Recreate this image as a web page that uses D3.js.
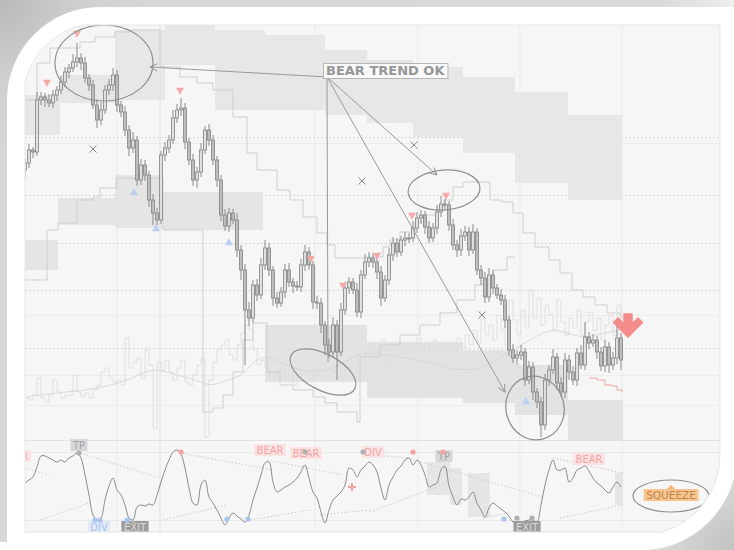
<!DOCTYPE html>
<html>
<head>
<meta charset="utf-8">
<script src="https://cdn.jsdelivr.net/npm/d3@7"></script>
<style>
  body { margin: 0; background: #fff; }
  svg { display: block; }
</style>
</head>
<body>
<svg id="chart" width="734" height="550"></svg>
<script>
// ---- data (price units are arbitrary) ----
const firstOpen = 270
const closes = [
  277, 290, 288, 340, 343, 340, 337, 345, 350, 358,
  368, 372, 378, 382, 377, 362, 355, 335, 320, 330,
  350, 355, 365, 335, 328, 310, 292, 300, 260, 275,
  265, 240, 227, 220, 285, 292, 300, 322, 330, 332,
  298, 280, 260, 268, 290, 310, 300, 280, 260, 225,
  214, 227, 220, 190, 170, 130, 122, 155, 145, 175,
  192, 170, 142, 137, 148, 170, 158, 154, 153, 175,
  188, 175, 138, 137, 115, 95, 88, 115, 88, 130,
  152, 158, 150, 128, 165, 178, 182, 178, 168, 142,
  160, 185, 197, 188, 200, 202, 202, 212, 222, 225,
  213, 202, 212, 228, 236, 235, 215, 195, 190, 204,
  208, 190, 208, 170, 162, 143, 165, 152, 145, 140,
  120, 90, 82, 85, 88, 60, 73, 48, 38, 15,
  60, 70, 83, 57, 48, 80, 68, 60, 87, 75,
  103, 97, 100, 88, 74, 93, 75, 82, 102, 80
]
const wickUp = [
  4, 6, 3, 8, 5, 4, 6, 5, 4, 6,   5, 4, 8, 15, 5, 6, 4, 5, 6, 8,
  5, 6, 7, 5, 4, 6, 5, 8, 4, 6,   5, 4, 6, 5, 4, 6, 5, 8, 6, 10,
  5, 4, 6, 5, 7, 4, 6, 5, 4, 5,   6, 5, 4, 7, 5, 6, 8, 5, 6, 7,
  8, 5, 4, 6, 5, 6, 7, 4, 5, 6,   7, 5, 4, 6, 5, 4, 6, 8, 5, 7,
  6, 5, 4, 7, 5, 8, 6, 5, 4, 6,   5, 7, 6, 5, 4, 6, 5, 7, 6, 5,
  4, 6, 5, 7, 8, 5, 4, 6, 5, 7,   6, 5, 8, 4, 5, 6, 7, 5, 4, 6,
  5, 4, 6, 5, 7, 4, 6, 5, 4, 5,   6, 5, 8, 4, 6, 7, 5, 6, 5, 8,
  15, 5, 6, 4, 5, 7, 5, 6, 12, 5
]
const wickDn = [
  8, 5, 6, 4, 5, 7, 4, 5, 6, 4,   5, 6, 4, 5, 7, 5, 6, 4, 8, 5,
  4, 5, 6, 7, 5, 6, 8, 5, 6, 5,   6, 7, 12, 5, 4, 6, 5, 4, 5, 6,
  7, 5, 6, 8, 5, 4, 6, 5, 7, 6,   5, 6, 4, 7, 10, 55, 8, 5, 6, 4,
  5, 6, 8, 5, 4, 6, 5, 7, 4, 5,   6, 5, 7, 6, 8, 10, 6, 5, 28, 4,
  5, 6, 4, 5, 6, 4, 5, 6, 7, 8,   4, 5, 6, 5, 4, 6, 5, 4, 5, 6,
  7, 5, 4, 6, 5, 4, 6, 5, 7, 6,   5, 6, 4, 5, 7, 6, 5, 6, 4, 5,
  8, 6, 5, 7, 5, 6, 4, 8, 6, 12,  5, 6, 4, 7, 5, 6, 8, 5, 6, 4,
  5, 6, 4, 7, 5, 6, 8, 5, 6, 10
]
// faint step series drawn under the candles, and its average (knots)
const flow = [
  42, 40, 45, 62, 42, 38, 45, 60, 48, 42,   45, 45, 65, 48, 44, 47, 42, 50, 55, 68,
  72, 62, 58, 60, 55, 102, 72, 78, 82, 62,  90, 75, 12, 78, 70, 80, 68, 60, 72, 80,
  58, 55, 65, 75, 82, 3, 60, 78, 90, 95,    100, 85, 80, 95, 107, 115, 110, 90, 75, 80,
  72, 65, 60, 68, 72, 62, 70, 55, 65, 75,   68, 60, 72, 65, 78, 70, 80, 68, 75, 62,
  72, 80, 68, 85, 75, 90, 95, 80, 88, 100,  75, 90, 78, 98, 85, 92, 80, 95, 102, 88,
  98, 85, 100, 90, 95, 82, 95, 88, 102, 92, 105, 95, 110, 98, 122, 105, 115, 100, 125, 110,
  95, 140, 120, 105, 130, 112, 150, 122, 142, 115, 135, 125, 110, 140, 118, 105, 122, 112, 130, 105,
  118, 128, 110, 122, 100, 115, 125, 105, 135, 115
]
const flowAvg = [
  [0.5, 43], [7, 47], [17, 50], [26.25, 60], [30.5, 70], [33.75, 70], [38, 65], [43, 60],
  [46.25, 53], [50.5, 60], [53.75, 63], [57, 77], [59.5, 85], [63, 80], [68, 70], [72, 68],
  [76.25, 70], [79.5, 77], [83, 85], [85.5, 88], [92, 84], [98.75, 80], [104, 74], [110.5, 68],
  [115.5, 75], [120, 86], [125.5, 98], [131.25, 112], [135.5, 107], [139.5, 102], [144, 106], [148.75, 110]
]
// stepped channel lines [candle index, level]
const upperBand = [
  [0, 340], [3, 377], [6.25, 392], [13.75, 398], [17.5, 403], [22.5, 408], [26.25, 410], [33.75, 373],
  [38.75, 363], [43, 357], [47, 350], [52, 323], [55.5, 287], [58, 270], [63, 250], [66.25, 240],
  [69.5, 223], [73, 207], [75.5, 195], [77.5, 182], [85, 183], [89.5, 193], [91.25, 200], [93.75, 208],
  [97.5, 218], [100, 225], [103, 233], [104.75, 240], [107, 253], [109.5, 258], [116.25, 240], [119.25, 238],
  [122, 227], [124.5, 207], [127.5, 193], [131, 180], [133.75, 167], [136.75, 150], [139.5, 143],
  [142.5, 135], [145.5, 127], [148.75, 123], [149.5, 123]
]
const lowerBand = [
  [0, 160], [5.5, 210], [8.25, 217], [13, 240], [17, 243], [18.75, 252], [23, 262], [34.5, 210],
  [44.5, 28], [47, 32], [49.5, 45], [52, 68], [54.5, 100], [57, 117], [60.5, 68], [63.75, 55],
  [67, 50], [72, 43], [75, 37], [78, 28], [83, 18], [83.75, 83], [88.75, 95], [93.75, 105],
  [98.75, 115], [103.75, 127], [108, 140], [112.5, 155], [117, 170], [120.5, 183], [122.5, 183]
]
const stopLine = [[141, 62], [143, 60], [145, 55], [146.75, 54], [148, 50], [149.25, 48]]
// shaded zones [from index, to index, top level, bottom level]
const zonesTop = [
  [0, 8.75, 345, 305], [8.75, 22.5, 365, 337], [22.5, 35, 410, 340], [35, 47.5, 415, 375],
  [47.5, 60, 410, 330], [60, 75, 405, 330], [75, 85.5, 390, 325], [85.5, 97, 380, 317],
  [97, 109.5, 373, 303], [109.5, 122.5, 363, 287], [122.5, 135.75, 348, 257], [135.75, 149.25, 325, 240]
]
const zonesMid = [
  [0, 8.25, 200, 170], [8.25, 22.5, 242, 215], [22.5, 34.5, 265, 212], [34.5, 59.5, 248, 210]
]
const zonesLow = [
  [60, 85.5, 115, 58], [85.5, 109.5, 98, 42], [109.5, 122.5, 90, 37], [122.5, 135.75, 75, 25],
  [135.75, 149.5, 40, 0]
]
const sellMarks = [[13, 407], [5.5, 358], [38.75, 350], [71.5, 182], [79.5, 155], [88, 185], [96.75, 225], [105.25, 245]]
const buyMarks = [[27.25, 247], [32.75, 211], [51, 197], [125.25, 38]]
const crossMarks = [[17, 291], [84.25, 259], [97.25, 295], [114.25, 125]]
const signalArrow = [150.75, 126]
const gridLevels = [303, 245, 197, 150, 92]
const faintLevels = [297, 125, 65, 35]
const gridCols = [23, 33.75, 72.5, 98.25, 123.75, 149.25]

// oscillator
const osc = [
  47, 50, 53, 63, 74, 74, 72, 70, 68, 70,   68, 72, 74, 77, 72, 55, 35, 15, 10, 12,
  30, 44, 52, 40, 35, 25, 12, 10, 23, 25,   24, 26, 25, 35, 48, 60, 70, 78, 80, 76,
  62, 42, 27, 25, 45, 50, 33, 27, 20, 12,   5, 12, 17, 14, 11, 8, 15, 30, 42, 55,
  67, 68, 48, 38, 40, 43, 45, 48, 52, 58,   65, 52, 38, 32, 18, 7, 20, 30, 34, 38,
  45, 62, 60, 53, 60, 64, 68, 65, 58, 42,   30, 45, 53, 60, 64, 70, 72, 65, 70, 65,
  55, 43, 45, 47, 60, 64, 44, 33, 25, 31,   30, 33, 38, 27, 20, 13, 22, 27, 24, 21,
  18, 14, 8, 7, 8, 9, 10, 10, 8, 25,        45, 60, 70, 60, 60, 62, 48, 52, 60, 62,
  64, 59, 52, 47, 44, 40, 37, 43, 48, 43
]
const oscUpperTrends = [
  [[0, 62], [6, 55]], [[13.75, 77], [33.75, 52]], [[38.75, 77], [62, 60]], [[60.5, 70], [79.5, 55]],
  [[84.5, 76], [95.5, 72]], [[95.5, 72], [129.5, 33]], [[132, 72], [149.5, 57]]
]
const oscLowerTrends = [
  [[3.75, 10], [16.75, 28]], [[34.5, 10], [50.5, 25]], [[56.25, 10], [71.25, 20]], [[73.75, 15], [86.25, 20]],
  [[86.25, 18], [105.5, 47]], [[114.5, 12], [120.75, 17]], [[133.75, 12], [149.5, 25]]
]
const oscZones = [[100.5, 106.25, 68, 35], [106.25, 109.25, 62, 25], [110.75, 116.25, 57, 13], [147.5, 149.5, 57, 25]]
const oscLevels = [78, 10]
const oscDots = [
  { i: 17.5, v: 10, kind: "bull" }, { i: 18.75, v: 10, kind: "bull" }, { i: 25.5, v: 10, kind: "bull" },
  { i: 50.5, v: 11, kind: "bull" }, { i: 55.75, v: 11, kind: "bull" }, { i: 119.75, v: 11, kind: "bull" },
  { i: 13.5, v: 77, kind: "gray" }, { i: 70, v: 78, kind: "gray" }, { i: 84.5, v: 78, kind: "gray" },
  { i: 123, v: 12, kind: "gray" }, { i: 126.75, v: 12, kind: "gray" }, { i: 27, v: 7, kind: "gray" },
  { i: 39, v: 78, kind: "bear" }, { i: 97, v: 78, kind: "bear" }, { i: 104.5, v: 78, kind: "bear" }
]
const oscTags = [
  { text: "TP", i: 13.5, v: 85, kind: "tp" },
  { text: "DIV", i: 18.5, v: 3, kind: "bull" },
  { text: "EXIT", i: 27.5, v: 3, kind: "exit" },
  { text: "BEAR", i: -2.5, v: 74, kind: "bear" },
  { text: "BEAR", i: 61.25, v: 80, kind: "bear" },
  { text: "BEAR", i: 70.25, v: 77, kind: "bear" },
  { text: "DIV", i: 87, v: 78, kind: "bear" },
  { text: "TP", i: 104.75, v: 74, kind: "tp" },
  { text: "EXIT", i: 125.5, v: 3, kind: "exit" },
  { text: "BEAR", i: 141, v: 71, kind: "bear" },
  { text: "SQUEEZE", i: 161.5, v: 35, kind: "squeeze" }
]
const oscPlus = [81.75, 43]

// hand drawn notes
const noteLabel = { text: "BEAR TREND OK", i: 75.5, v: 363 }
const noteRings = [
  { i: 19.75, v: 377, rx: 49, ry: 38, rot: 0 },
  { i: 104.75, v: 250, rx: 36, ry: 20, rot: -4 },
  { i: 74.5, v: 68, rx: 36, ry: 18, rot: 28 },
  { i: 127.5, v: 32, rx: 29, ry: 32, rot: -15 }
]
const noteArrows = [[31.25, 373], [103, 265], [120, 48]]
const noteDrop = [75.75, 78]
const squeezeRing = { i: 161.5, v: 34, rx: 38, ry: 16 }

// ---- layout ----
const W = 734, H = 550
const plotLeft = 25, plotRight = 720, plotTop = 25, mainBottom = 440, oscBottom = 532

const svg = d3.select("#chart")
const defs = svg.append("defs")

const x = d3.scaleLinear().domain([0, 149]).range([25, 621])
const y = d3.scaleLinear().domain([0, 415]).range([mainBottom, plotTop])
const yo = d3.scaleLinear().domain([0, 90]).range([530, mainBottom])

// frame
const tl = defs.append("radialGradient").attr("id", "tlGrad")
  .attr("gradientUnits", "userSpaceOnUse").attr("cx", 0).attr("cy", 0).attr("r", 140)
tl.append("stop").attr("offset", 0).attr("stop-color", "#b9b9b9")
tl.append("stop").attr("offset", 0.55).attr("stop-color", "#cfcfcf")
tl.append("stop").attr("offset", 1).attr("stop-color", "#d6d6d6")
const br = defs.append("radialGradient").attr("id", "brGrad")
  .attr("gradientUnits", "userSpaceOnUse").attr("cx", W).attr("cy", H).attr("r", 110)
br.append("stop").attr("offset", 0).attr("stop-color", "#c2c2c2")
br.append("stop").attr("offset", 1).attr("stop-color", "#e6e6e6")
const tr = defs.append("linearGradient").attr("id", "trGrad")
tr.append("stop").attr("offset", 0).attr("stop-color", "#d6d6d6")
tr.append("stop").attr("offset", 0.9).attr("stop-color", "#dadada")
tr.append("stop").attr("offset", 1).attr("stop-color", "#eeeeee")

svg.append("rect").attr("width", W).attr("height", H).attr("fill", "url(#trGrad)")
svg.append("rect").attr("width", 160).attr("height", 160).attr("fill", "url(#tlGrad)")
svg.append("rect").attr("x", W - 120).attr("y", H - 120).attr("width", 120).attr("height", 120).attr("fill", "url(#brGrad)")
svg.append("path")
  .attr("d", "M7,550 L7,100 A93,93 0 0 1 100,7 L734,7 L734,478 A96,96 0 0 1 645,550 Z")
  .attr("fill", "#fff")
svg.append("rect").attr("x", 0).attr("y", 542).attr("width", 8).attr("height", 8).attr("fill", "#fff")

// plot area
const plotPath = "M25,532 L25,82.5 A77,77 0 0 1 82.5,25 L720,25 L720,455 A80,80 0 0 1 661.7,532 Z"
defs.append("clipPath").attr("id", "plotClip").append("path").attr("d", plotPath)
const g = svg.append("g").attr("clip-path", "url(#plotClip)")
g.append("path").attr("d", plotPath).attr("fill", "#f6f6f6")

// grid
g.selectAll(".vgrid").data(gridCols).join("line")
  .attr("x1", d => x(d)).attr("x2", d => x(d))
  .attr("y1", plotTop).attr("y2", oscBottom)
  .attr("stroke", (d, i) => i === 1 ? "#dedede" : "#ebebeb").attr("stroke-width", 1)
g.selectAll(".hfaint").data(faintLevels).join("line")
  .attr("x1", plotLeft).attr("x2", plotRight)
  .attr("y1", d => y(d) + 0.5).attr("y2", d => y(d) + 0.5)
  .attr("stroke", "#ececec")
g.selectAll(".hgrid").data(gridLevels).join("line")
  .attr("x1", plotLeft).attr("x2", plotRight)
  .attr("y1", d => y(d) + 0.5).attr("y2", d => y(d) + 0.5)
  .attr("stroke", "#d6d6d6").attr("stroke-dasharray", "2,2")
g.append("line").attr("x1", plotLeft).attr("x2", plotRight)
  .attr("y1", mainBottom + 0.5).attr("y2", mainBottom + 0.5).attr("stroke", "#e2e2e2")
g.selectAll(".olevel").data(oscLevels).join("line")
  .attr("x1", plotLeft).attr("x2", plotRight)
  .attr("y1", d => yo(d) + 0.5).attr("y2", d => yo(d) + 0.5)
  .attr("stroke", "#e9e9e9")

// zones
function drawZones(data, fill, op) {
  g.append("g").selectAll("rect").data(data).join("rect")
    .attr("x", d => x(d[0])).attr("width", d => x(d[1]) - x(d[0]))
    .attr("y", d => y(d[2])).attr("height", d => y(d[3]) - y(d[2]))
    .attr("fill", fill).attr("opacity", op)
}
drawZones(zonesTop, "#e4e4e4", 0.85)
drawZones(zonesMid, "#e2e2e2", 0.85)
drawZones(zonesLow, "#dedede", 0.8)

// faint flow series + average
g.append("path")
  .datum(flow)
  .attr("d", d3.line().x((d, i) => x(i)).y(d => y(d)).curve(d3.curveStepAfter))
  .attr("fill", "none").attr("stroke", "#dddddd").attr("stroke-width", 0.9)
g.append("path")
  .datum(flowAvg)
  .attr("d", d3.line().x(d => x(d[0])).y(d => y(d[1])).curve(d3.curveBasis))
  .attr("fill", "none").attr("stroke", "#d6d6d6").attr("stroke-width", 0.9)

// channel steps
const stepLine = d3.line().x(d => x(d[0])).y(d => y(d[1])).curve(d3.curveStepAfter)
g.append("path").datum(upperBand).attr("d", stepLine)
  .attr("fill", "none").attr("stroke", "#cfcfcf").attr("stroke-width", 1)
g.append("path").datum(lowerBand).attr("d", stepLine)
  .attr("fill", "none").attr("stroke", "#cfcfcf").attr("stroke-width", 1)
g.append("path").datum(stopLine).attr("d", stepLine)
  .attr("fill", "none").attr("stroke", "#f3a4a4").attr("stroke-width", 1)

// candles
const candles = closes.map((c, i) => {
  const o = i === 0 ? firstOpen : closes[i - 1]
  return { i, o, c, h: Math.max(o, c) + wickUp[i], l: Math.min(o, c) - wickDn[i] }
})
const cg = g.append("g")
cg.selectAll("line").data(candles).join("line")
  .attr("x1", d => x(d.i)).attr("x2", d => x(d.i))
  .attr("y1", d => y(d.h)).attr("y2", d => y(d.l))
  .attr("stroke", "#8a8a8a").attr("stroke-width", 1)
cg.selectAll("rect").data(candles).join("rect")
  .attr("x", d => x(d.i) - 1.5).attr("width", 3)
  .attr("y", d => y(Math.max(d.o, d.c)))
  .attr("height", d => Math.max(1, Math.abs(y(d.o) - y(d.c))))
  .attr("fill", d => d.c >= d.o ? "#e0e0e0" : "#bdbdbd")
  .attr("stroke", "#838383").attr("stroke-width", 0.8)

// signal marks
const tri = d3.symbol(d3.symbolTriangle).size(28)
g.selectAll(".sell").data(sellMarks).join("path")
  .attr("d", tri)
  .attr("transform", d => `translate(${x(d[0])},${y(d[1])}) rotate(180)`)
  .attr("fill", "#f6a9a9")
g.selectAll(".buy").data(buyMarks).join("path")
  .attr("d", tri)
  .attr("transform", d => `translate(${x(d[0])},${y(d[1])})`)
  .attr("fill", "#b8cff1")
g.selectAll(".cross").data(crossMarks).join("path")
  .attr("d", "M-3.5,-3.5 L3.5,3.5 M-3.5,3.5 L3.5,-3.5")
  .attr("transform", d => `translate(${x(d[0])},${y(d[1])})`)
  .attr("stroke", "#8a8a8a").attr("stroke-width", 1).attr("fill", "none")

// big signal arrow
g.append("path")
  .attr("d", "M-4,0 L4,0 L4,10 L10,4 L14.5,8.5 L0,23 L-14.5,8.5 L-10,4 L-4,10 Z")
  .attr("transform", `translate(${x(signalArrow[0])},${y(signalArrow[1])})`)
  .attr("fill", "#f48c8c").attr("stroke", "#f48c8c").attr("stroke-linejoin", "round").attr("stroke-width", 1.5)

// oscillator
const og = g.append("g")
og.selectAll(".ozone").data(oscZones).join("rect")
  .attr("x", d => x(d[0])).attr("width", d => x(d[1]) - x(d[0]))
  .attr("y", d => yo(d[2])).attr("height", d => yo(d[3]) - yo(d[2]))
  .attr("fill", "#e6e6e6")
const trendLine = d3.line().x(d => x(d[0])).y(d => yo(d[1]))
og.selectAll(".ut").data(oscUpperTrends.concat(oscLowerTrends)).join("path")
  .attr("d", trendLine)
  .attr("fill", "none").attr("stroke", "#c9c9c9").attr("stroke-width", 1)
  .attr("stroke-dasharray", "1.5,2")
og.append("path").datum(osc)
  .attr("d", d3.line().x((d, i) => x(i)).y(d => yo(d)).curve(d3.curveCatmullRom))
  .attr("fill", "none").attr("stroke", "#808080").attr("stroke-width", 0.9)

const tagStyle = {
  bear: { box: "#fbe3e3", text: "#f3a3a3" },
  bull: { box: "#e3ebf8", text: "#a6c1ee" },
  tp: { box: "#d7d7d7", text: "#a2a2a2" },
  exit: { box: "#9c9c9c", text: "#dadada" },
  squeeze: { box: "#f9c48e", text: "#b98650" }
}
const dotColor = { bull: "#a8c4f0", gray: "#b0b0b0", bear: "#f4a3a3" }

oscTags.forEach(t => {
  const s = tagStyle[t.kind]
  const tg = og.append("g").attr("transform", `translate(${x(t.i)},${yo(t.v)})`)
  const box = tg.append("rect").attr("fill", s.box)
  const txt = tg.append("text")
    .attr("text-anchor", "middle").attr("dy", "0.36em")
    .attr("font-family", "DejaVu Sans, sans-serif").attr("font-size", t.kind === "squeeze" ? 10.5 : 10)
    .attr("fill", s.text).text(t.text)
  const w = txt.node().getComputedTextLength() + 5
  box.attr("x", -w / 2).attr("y", -6).attr("width", w).attr("height", 12)
  if (t.kind === "squeeze") {
    tg.append("path").attr("d", "M-4,-6 L0,-10 L4,-6 Z").attr("fill", "#f2b276")
  }
})
og.selectAll(".odot").data(oscDots).join("circle")
  .attr("cx", d => x(d.i)).attr("cy", d => yo(d.v)).attr("r", 2.6)
  .attr("fill", d => dotColor[d.kind])
og.append("path")
  .attr("d", "M-4,0 L4,0 M0,-4 L0,4")
  .attr("transform", `translate(${x(oscPlus[0])},${yo(oscPlus[1])})`)
  .attr("stroke", "#f4a3a3").attr("stroke-width", 2)

// notes
const ng = g.append("g")
defs.append("marker").attr("id", "chev")
  .attr("viewBox", "0 0 10 10").attr("refX", 9).attr("refY", 5)
  .attr("markerWidth", 9).attr("markerHeight", 9).attr("orient", "auto")
  .append("path").attr("d", "M1,1 L9,5 L1,9").attr("fill", "none").attr("stroke", "#8e8e8e").attr("stroke-width", 1)

const ax = x(noteLabel.i), ay = y(noteLabel.v)
ng.selectAll(".arrow").data(noteArrows).join("line")
  .attr("x1", ax).attr("y1", ay).attr("x2", d => x(d[0])).attr("y2", d => y(d[1]))
  .attr("stroke", "#9a9a9a").attr("stroke-width", 1).attr("marker-end", "url(#chev)")
ng.append("line")
  .attr("x1", ax).attr("y1", ay).attr("x2", x(noteDrop[0])).attr("y2", y(noteDrop[1]))
  .attr("stroke", "#9a9a9a").attr("stroke-width", 1)
ng.selectAll(".ring").data(noteRings).join("ellipse")
  .attr("cx", 0).attr("cy", 0).attr("rx", d => d.rx).attr("ry", d => d.ry)
  .attr("transform", d => `translate(${x(d.i)},${y(d.v)}) rotate(${d.rot})`)
  .attr("fill", "none").attr("stroke", "#8f8f8f").attr("stroke-width", 1.2)
ng.append("ellipse")
  .attr("cx", x(squeezeRing.i)).attr("cy", yo(squeezeRing.v))
  .attr("rx", squeezeRing.rx).attr("ry", squeezeRing.ry)
  .attr("fill", "none").attr("stroke", "#8f8f8f").attr("stroke-width", 1.2)

const lg = ng.append("g").attr("transform", `translate(${ax - 4},${ay - 14})`)
const lbox = lg.append("rect").attr("fill", "#f9f9f9").attr("stroke", "#b5b5b5").attr("stroke-width", 1)
const ltxt = lg.append("text")
  .attr("x", 3).attr("y", 11.8)
  .attr("font-family", "DejaVu Sans, sans-serif").attr("font-weight", "bold").attr("font-size", 13)
  .attr("fill", "#969696").text(noteLabel.text)
lbox.attr("x", 0.5).attr("y", 0.5).attr("width", ltxt.node().getComputedTextLength() + 6).attr("height", 15)

// plot border
svg.append("path").attr("d", plotPath).attr("fill", "none").attr("stroke", "#e6e6e6")
</script>
</body>
</html>
